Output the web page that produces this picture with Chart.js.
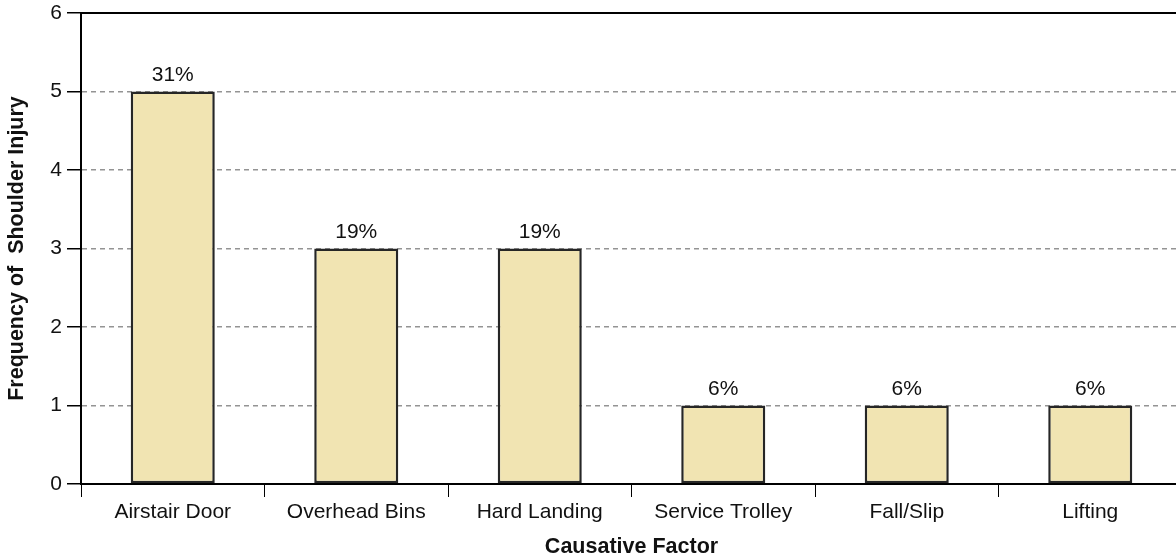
<!DOCTYPE html>
<html>
<head>
<meta charset="utf-8">
<script src="https://cdn.jsdelivr.net/npm/chart.js@4.4.1/dist/chart.umd.min.js"></script>
<style>
  html, body { margin: 0; padding: 0; background: #fff; overflow: hidden; }
  #wrap { position: relative; width: 1190px; height: 560px; }
</style>
</head>
<body>
<div id="wrap"><canvas id="c" width="1190" height="560"></canvas></div>
<script>
// Shoulder injury frequency by causative factor
const categories = ['Airstair Door', 'Overhead Bins', 'Hard Landing', 'Service Trolley', 'Fall/Slip', 'Lifting'];
const frequency = [5, 3, 3, 1, 1, 1];
const shareLabels = ['31%', '19%', '19%', '6%', '6%', '6%'];
const yTicks = [0, 1, 2, 3, 4, 5, 6];

const FONT = "'Liberation Sans', Arial, Helvetica, sans-serif";

// Percentage labels above each bar, plus the solid frame line on top of the plot
const barLabels = {
  id: 'barLabels',
  afterDatasetsDraw(chart) {
    const ctx = chart.ctx;
    const meta = chart.getDatasetMeta(0);
    ctx.save();
    ctx.font = '21px ' + FONT;
    ctx.fillStyle = '#111';
    ctx.textAlign = 'center';
    ctx.textBaseline = 'alphabetic';
    meta.data.forEach((bar, i) => {
      ctx.fillText(shareLabels[i], bar.x, bar.y - 11);
    });
    ctx.restore();
  },
  afterDraw(chart) {
    const { ctx, chartArea } = chart;
    ctx.save();
    ctx.strokeStyle = '#000';
    ctx.lineWidth = 2;
    ctx.beginPath();
    ctx.moveTo(chartArea.left - 1, chartArea.top);
    ctx.lineTo(chartArea.right + 2, chartArea.top);
    ctx.stroke();
    ctx.restore();
  }
};

new Chart(document.getElementById('c'), {
  type: 'bar',
  data: {
    labels: categories,
    datasets: [{
      data: frequency,
      backgroundColor: '#F1E4B2',
      borderColor: '#262626',
      borderWidth: 2.5,
      borderSkipped: false,
      categoryPercentage: 1,
      barPercentage: 0.458
    }]
  },
  options: {
    responsive: false,
    animation: false,
    devicePixelRatio: 1,
    layout: { padding: { top: 13, right: 8, left: 0, bottom: 0 } },
    plugins: {
      legend: { display: false },
      tooltip: { enabled: false }
    },
    scales: {
      x: {
        afterFit(scale) { scale.height = 76; },
        grid: {
          display: true,
          offset: true,
          drawOnChartArea: false,
          drawTicks: true,
          tickLength: 13,
          tickColor: '#000',
          tickWidth: 1
        },
        border: { display: true, color: '#000', width: 2 },
        ticks: {
          color: '#111',
          padding: 3,
          maxRotation: 0,
          autoSkip: false,
          font: { family: FONT, size: 21 }
        },
        title: {
          display: true,
          text: 'Causative Factor',
          color: '#111',
          padding: { top: 0, bottom: 0 },
          font: { family: FONT, size: 21.5, weight: 'bold', lineHeight: 1.2 }
        }
      },
      y: {
        min: 0,
        max: 6,
        afterFit(scale) { scale.width = 81; },
        afterBuildTicks(scale) { scale.ticks = yTicks.map(v => ({ value: v })); },
        grid: {
          color: (c) => (c.tick && (c.tick.value === 0 || c.tick.value === 6)) ? 'rgba(0,0,0,0)' : '#949494',
          lineWidth: 1.5,
          drawTicks: true,
          tickLength: 14,
          tickColor: '#000',
          tickWidth: 1.5,
          tickBorderDash: []
        },
        border: { display: true, color: '#000', width: 2, dash: [5, 4] },
        ticks: {
          color: '#111',
          padding: 5,
          font: { family: FONT, size: 21, lineHeight: 0.7 }
        },
        title: {
          display: true,
          text: 'Frequency of  Shoulder Injury',
          color: '#111',
          padding: { top: 4, bottom: 0 },
          font: { family: FONT, size: 21.5, weight: 'bold', lineHeight: 1.2 }
        }
      }
    }
  },
  plugins: [barLabels]
});
</script>
</body>
</html>
